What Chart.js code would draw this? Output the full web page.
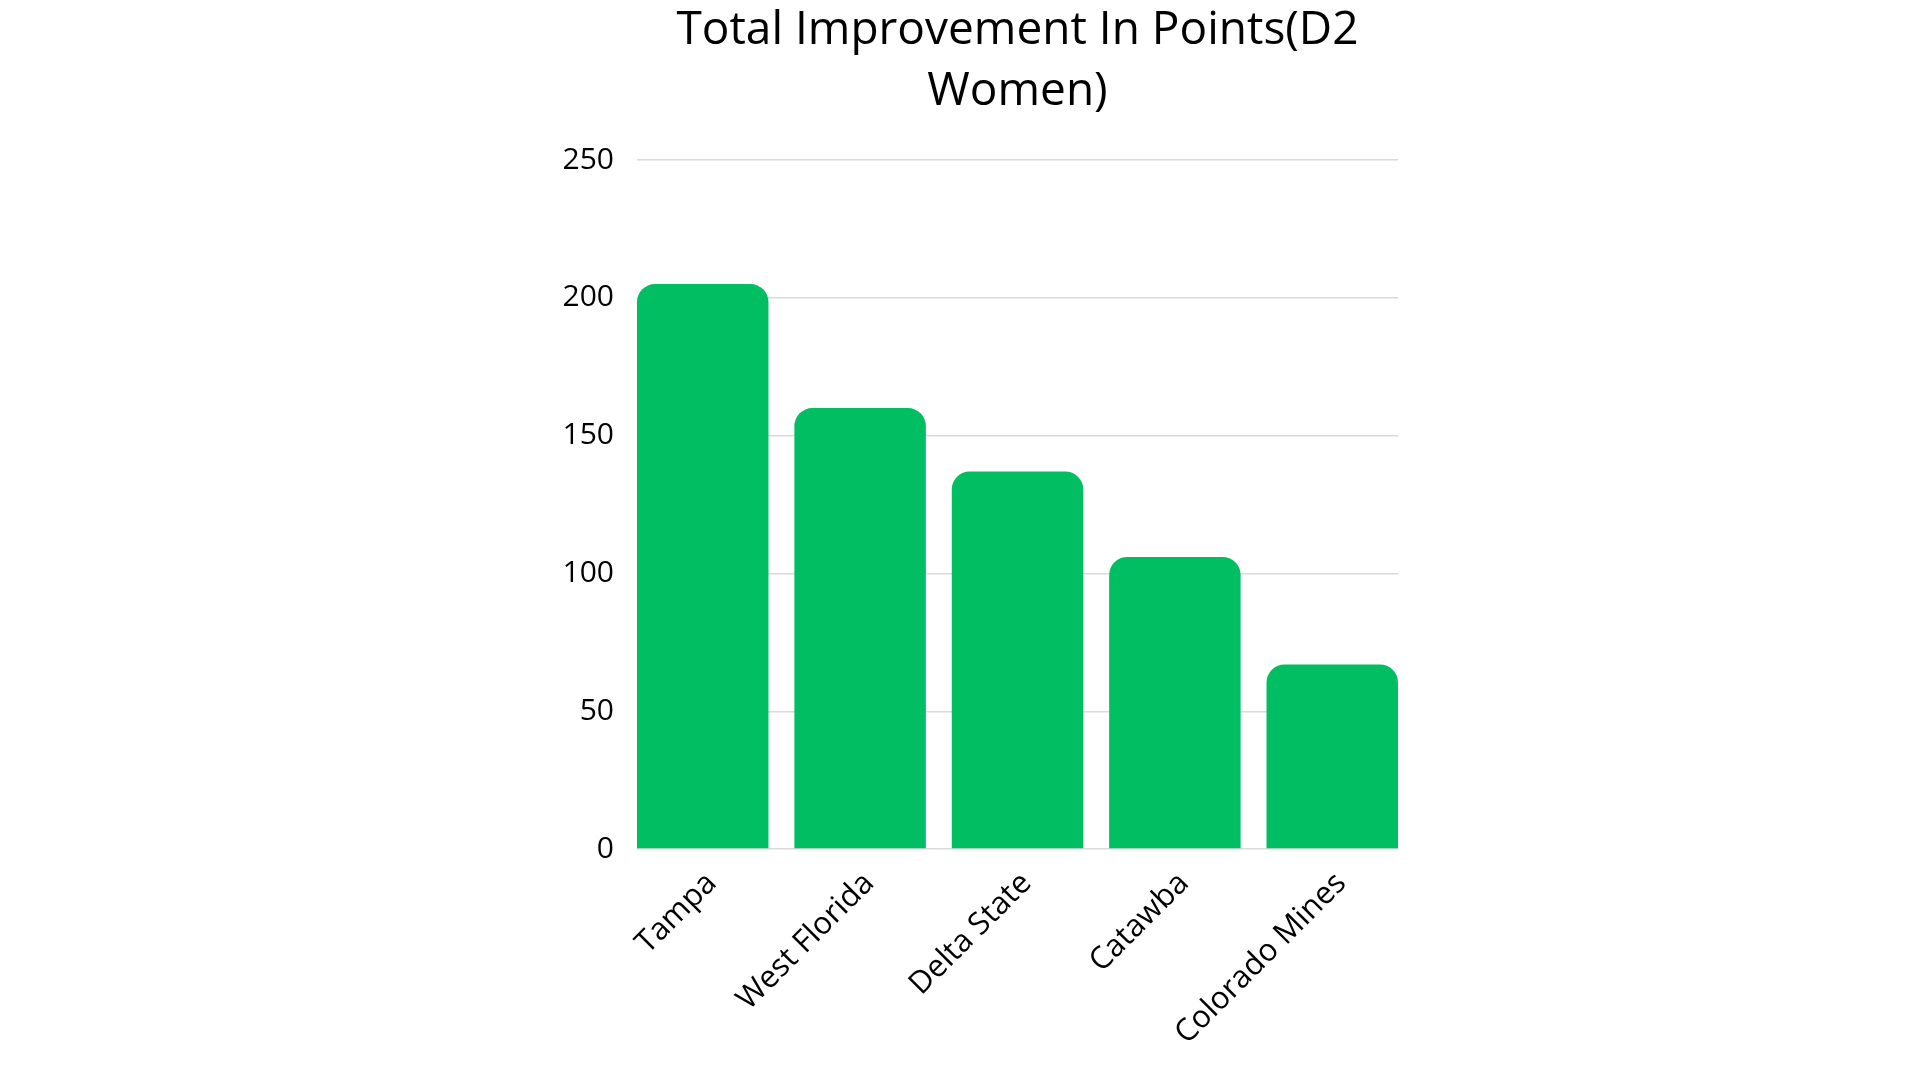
<!DOCTYPE html>
<html>
<head>
<meta charset="utf-8">
<style>
    html, body { margin: 0; padding: 0; background: #ffffff; }
    #wrap { width: 1920px; height: 1080px; position: relative; }
</style>
</head>
<body>
<div id="wrap">
    <canvas id="myChart"></canvas>
</div>
<script type="text/javascript" src="https://cdn.jsdelivr.net/npm/chart.js@4.4.2/dist/chart.umd.min.js"></script>
<script>
// data
const titleLines = ['Total Improvement In Points(D2', 'Women)'];
const categories = ['Tampa', 'West Florida', 'Delta State', 'Catawba', 'Colorado Mines'];
const improvement = [205, 160, 137, 106, 67];
const yTickValues = [0, 50, 100, 150, 200, 250];

const green = 'rgb(2, 190, 99)';
const fontFamily = '"Open Sans", "Noto Sans", sans-serif';

// bars sit on a linear x scale so the outer bars touch the ends of the grid lines
const halfBar = 0.4177;

const data = {
    datasets: [{
        label: 'Total Improvement',
        data: categories.map((name, i) => ({ x: i, y: improvement[i] })),
        backgroundColor: green,
        borderRadius: 18,
        borderSkipped: 'start',
        categoryPercentage: 1,
        barPercentage: 0.8354
    }]
};

const config = {
    type: 'bar',
    data,
    options: {
        responsive: true,
        maintainAspectRatio: false,
        animation: false,
        layout: {
            padding: { left: 537, right: 522, top: 0, bottom: 12 }
        },
        plugins: {
            legend: { display: false },
            tooltip: { enabled: false },
            title: {
                display: true,
                fullSize: false,
                text: titleLines,
                color: '#000000',
                font: { family: fontFamily, size: 46, weight: 'normal', lineHeight: 1.326 },
                padding: { top: 0, bottom: 38 }
            }
        },
        scales: {
            x: {
                type: 'linear',
                offset: false,
                bounds: 'ticks',
                min: -halfBar,
                max: categories.length - 1 + halfBar,
                grid: { display: false, drawTicks: false },
                border: { display: false },
                afterBuildTicks: (scale) => {
                    scale.ticks = categories.map((name, i) => ({ value: i }));
                },
                ticks: {
                    autoSkip: false,
                    minRotation: 45,
                    maxRotation: 45,
                    padding: 16,
                    labelOffset: 9,
                    color: '#000000',
                    font: { family: fontFamily, size: 31 },
                    callback: (value) => categories[value]
                }
            },
            y: {
                min: 0,
                max: 250,
                afterBuildTicks: (scale) => {
                    scale.ticks = yTickValues.map(v => ({ value: v }));
                },
                afterFit: (scale) => { scale.width = 100; },
                grid: { color: '#dadada', lineWidth: 1.5, drawTicks: false },
                border: { display: false },
                ticks: {
                    padding: 23,
                    color: '#000000',
                    font: { family: fontFamily, size: 30 }
                }
            }
        }
    }
};

let myChart = new Chart(document.getElementById('myChart'), config);
</script>
</body>
</html>
